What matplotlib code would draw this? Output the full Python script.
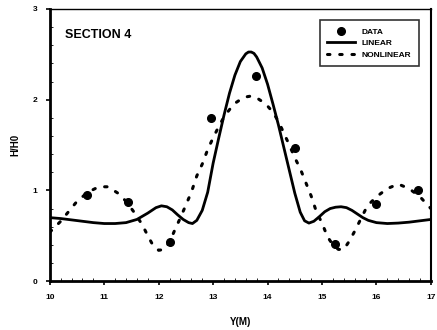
import matplotlib
matplotlib.use("Agg")
import matplotlib.pyplot as plt

# Measured data
data_x = [10.68, 11.43, 12.20, 12.96, 13.79, 14.50, 15.24, 16.00, 16.76]
data_y = [0.945, 0.87, 0.43, 1.80, 2.26, 1.47, 0.41, 0.85, 1.00]

# Linear theory curve
lin_x = [10.0, 10.2, 10.4, 10.6, 10.8, 11.0, 11.2, 11.4, 11.6, 11.8, 11.95, 12.05, 12.15, 12.25,
         12.35, 12.45, 12.55, 12.62, 12.7, 12.8, 12.9, 13.0, 13.1, 13.2, 13.3, 13.4, 13.5,
         13.6, 13.65, 13.7, 13.75, 13.8, 13.9, 14.0, 14.1, 14.2, 14.3, 14.4, 14.5, 14.6,
         14.68, 14.76, 14.85, 14.95, 15.05, 15.15, 15.25, 15.35, 15.45, 15.55, 15.65, 15.75,
         15.85, 16.0, 16.2, 16.4, 16.6, 16.8, 17.0]
lin_y = [0.70, 0.69, 0.675, 0.66, 0.645, 0.635, 0.635, 0.645, 0.68, 0.75, 0.81, 0.83, 0.82, 0.785,
         0.73, 0.68, 0.645, 0.635, 0.67, 0.78, 0.98, 1.30, 1.57, 1.83, 2.07, 2.27, 2.42,
         2.505, 2.525, 2.525, 2.51, 2.47, 2.35, 2.17, 1.95, 1.72, 1.47, 1.22, 0.97, 0.76,
         0.665, 0.64, 0.66, 0.71, 0.765, 0.80, 0.815, 0.82, 0.81, 0.78, 0.74, 0.70,
         0.67, 0.645, 0.635, 0.64, 0.65, 0.665, 0.68]

# Nonlinear theory curve
nl_x = [10.0, 10.2, 10.35, 10.5, 10.7, 10.9, 11.07, 11.25, 11.4, 11.56, 11.7, 11.8, 11.9,
        12.0, 12.1, 12.2, 12.3, 12.4, 12.5, 12.6, 12.7, 12.8, 12.9, 13.0, 13.1, 13.2, 13.3,
        13.4, 13.5, 13.6, 13.7, 13.8, 13.9, 14.0, 14.1, 14.2, 14.3, 14.4, 14.5, 14.6, 14.7,
        14.8, 14.9, 15.0, 15.1, 15.2, 15.3, 15.4, 15.5, 15.6, 15.7, 15.8, 15.9, 16.0, 16.2,
        16.4, 16.6, 16.8, 17.0]
nl_y = [0.54, 0.66, 0.77, 0.88, 0.98, 1.04, 1.04, 0.97, 0.88, 0.75, 0.62, 0.50, 0.39,
        0.34, 0.35, 0.43, 0.57, 0.70, 0.84, 0.98, 1.16, 1.29, 1.45, 1.58, 1.70, 1.81, 1.89,
        1.96, 2.00, 2.03, 2.04, 2.02, 1.98, 1.93, 1.86, 1.76, 1.63, 1.50, 1.36, 1.24, 1.09,
        0.94, 0.76, 0.64, 0.49, 0.40, 0.35, 0.35, 0.44, 0.55, 0.67, 0.79, 0.87, 0.93, 1.02,
        1.07, 1.02, 0.93, 0.80]

x_ticks = [10, 11, 12, 13, 14, 15, 16, 17]
y_ticks = [0, 1, 2, 3]

fam = ["Liberation Sans", "DejaVu Sans"]
plt.rcParams['font.family'] = fam

fig = plt.figure(figsize=(4.37, 3.30), dpi=100)
ax = fig.add_axes([0.114, 0.148, 0.872, 0.825])

ax.plot(lin_x, lin_y, color="black", lw=2.0, label="LINEAR", zorder=3,
        solid_joinstyle="round")
ax.plot(nl_x, nl_y, color="black", lw=2.2, linestyle=(0, (0.8, 3.2)),
        dash_capstyle="round", label="NONLINEAR", zorder=3)
ax.plot(data_x, data_y, 'o', color="black", markersize=5.5, label="DATA", zorder=4)

ax.set_xlim(10, 17)
ax.set_ylim(0, 3)
ax.set_xticks(x_ticks)
ax.set_yticks(y_ticks)
ax.set_xticklabels([str(t) for t in x_ticks], fontsize=6, fontweight="bold")
ax.set_yticklabels([str(t) for t in y_ticks], fontsize=6, fontweight="bold")
ax.tick_params(axis="both", direction="out", length=3, width=1.2, pad=6)
ax.minorticks_on()
ax.tick_params(which="minor", direction="in", length=2, width=0.6)

ax.spines["left"].set_linewidth(2.0)
ax.spines["bottom"].set_linewidth(2.0)
ax.spines["top"].set_linewidth(1.0)
ax.spines["right"].set_linewidth(1.5)

ax.set_xlabel("Y(M)", fontsize=7, fontweight="bold", labelpad=12)
ax.set_ylabel("H/H0", fontsize=7, fontweight="bold", labelpad=9)

ax.text(0.04, 0.905, "SECTION 4", transform=ax.transAxes, fontsize=9,
        fontweight="bold", ha="left", va="center")

handles, labels = ax.get_legend_handles_labels()
order = [2, 0, 1]
leg = ax.legend([handles[i] for i in order], [labels[i] for i in order],
                loc="upper right", bbox_to_anchor=(0.968, 0.958),
                prop={"size": 6, "weight": "bold", "family": fam},
                frameon=True, fancybox=False, edgecolor="black",
                handlelength=3.3, borderpad=0.9, labelspacing=0.45, handletextpad=0.8,
                borderaxespad=0.0)
leg.get_frame().set_linewidth(1.2)

fig.savefig("out.png", dpi=100)
